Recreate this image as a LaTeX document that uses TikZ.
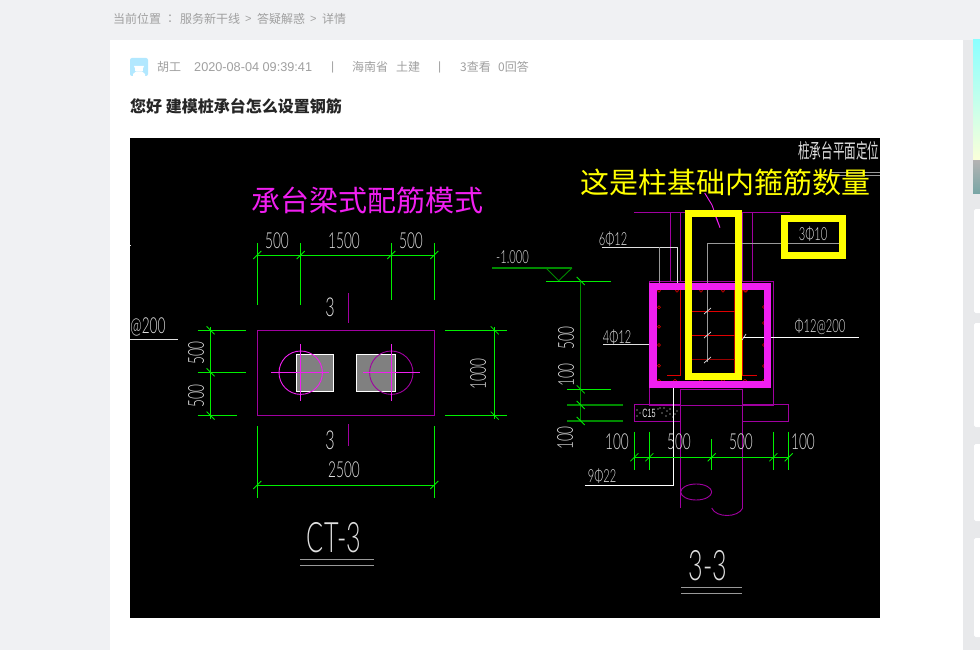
\documentclass[tikz,border=0pt]{standalone}
\usepackage{fontspec}
\usepackage{graphicx}
\setmainfont{Liberation Sans}
\newfontfamily\cjk{Noto Sans CJK SC}
\newfontfamily\cadf{Lato Light}
\definecolor{pagebg}{HTML}{F0F1F3}
\definecolor{stripbg}{HTML}{E8E9EB}
\definecolor{graytext}{HTML}{A0A0A0}
\definecolor{cadgreen}{HTML}{00F000}
\definecolor{dkgreen}{HTML}{008A00}
\definecolor{cadmag}{HTML}{A000A0}
\definecolor{brmag}{HTML}{F01FF0}
\definecolor{cadwhite}{HTML}{E0E0E0}
\definecolor{cadyellow}{HTML}{FFFF00}
\definecolor{cadred}{HTML}{E00000}
\newcommand\cadt[2][.62]{\scalebox{#1}[1]{#2}}
\tikzset{
  x=1pt,y=-1pt,
  crumb/.style={font=\cjk\fontsize{12}{12}\selectfont,text=graytext,inner sep=0,anchor=west},
  cad/.style={font=\cadf\fontsize{22}{22}\selectfont,text=cadwhite,inner sep=0},
  cadbig/.style={font=\cadf\fontsize{26}{26}\selectfont,text=cadwhite,inner sep=0},
  cadsm/.style={font=\cadf\fontsize{18}{18}\selectfont,text=cadwhite,inner sep=0},
  dimg/.style={draw=cadgreen,line width=.8pt},
  dimd/.style={draw=dkgreen,line width=1.2pt},
  mg/.style={draw=cadmag,line width=.9pt},
  bm/.style={draw=brmag,line width=.9pt},
  wl/.style={draw=cadwhite,line width=.9pt},
  gl/.style={draw=gray!80!white,line width=.9pt},
  rb/.style={draw=cadred,line width=.8pt},
  rr/.style={draw=cadred,line width=.5pt},
  ylw/.style={draw=cadyellow,line width=7pt},
}
\begin{document}
\begin{tikzpicture}
\useasboundingbox (0,0) rectangle (980,650);
\fill[pagebg] (0,0) rectangle (980,650);
\fill[stripbg] (963,40) rectangle (980,650);
\fill[white] (110,40) rectangle (963,650);
% right-hand column
\shade[top color=cyan!45,bottom color=green!10!yellow!15!white] (973,40) rectangle (980,161);
\shade[top color=gray!60,bottom color=teal!50!gray!70] (973,161) rectangle (980,193);
\foreach \a/\b in {209/313,323/427,444/521,538/637}
  \fill[white,rounded corners=1.5pt] (974,\a) rectangle (982,\b);
% breadcrumb
\node[crumb] (c1) at (113,19) {当前位置};
\node[crumb] (c2) at (167,19) {：};
\node[crumb] (c3) at (180,19) {服务新干线};
\node[crumb,font=\fontsize{11}{11}\selectfont] (c4) at (245,19) {>};
\node[crumb] (c5) at (257,19) {答疑解惑};
\node[crumb,font=\fontsize{11}{11}\selectfont] (c6) at (310,19) {>};
\node[crumb] (c7) at (322,19) {详情};
% author row
\fill[blue!30!cyan!30,rounded corners=2pt] (130,58) rectangle (148,76);
\fill[white] (134,66) arc[start angle=180,end angle=0,radius=5] -- cycle;
\fill[white] (135,67) rectangle (143,71);
\fill[white] (133,76) -- (133,74) -- (136,71.5) -- (142,71.5) -- (145,74) -- (145,76) -- cycle;
\node[crumb] (a1) at (157,67) {胡工};
\node[crumb,font=\fontsize{12.7}{12.7}\selectfont] (a2) at (194,67) {2020-08-04 09:39:41};
\node[crumb,font=\fontsize{12}{12}\selectfont] (a3) at (331,67) {|};
\node[crumb] (a4) at (352,67) {海南省};
\node[crumb] (a5) at (396,67) {土建};
\node[crumb,font=\fontsize{12}{12}\selectfont] (a6) at (438,67) {|};
\node[crumb] (a7) at (460,67) {3查看};
\node[crumb] (a8) at (498,67) {0回答};
\node[inner sep=0,anchor=west,font=\cjk\bfseries\fontsize{16}{16}\selectfont,text=black!85] (ttl) at (130,106) {您好 建模桩承台怎么设置钢筋};
% drawing
\fill[black] (130,138) rectangle (880,618);
\begin{scope}
\clip (130,138) rectangle (880,618);
%----- plan
\draw[dimg] (257.3,255) -- (434.3,255);
\draw[dimg] (257.3,243) -- (257.3,305);
\draw[dimg] (300.7,243) -- (300.7,305);
\draw[dimg] (391.3,243) -- (391.3,300);
\draw[dimg] (434.3,243) -- (434.3,300);
\draw[dimg] (210.6,327) -- (210.6,419);
\draw[dimg] (197.6,330.3) -- (246,330.3);
\draw[dimg] (197.6,372.3) -- (246,372.3);
\draw[dimg] (197.6,415.6) -- (237,415.6);
\draw[dimg] (494.7,327) -- (494.7,419);
\draw[dimg] (445,330.3) -- (507,330.3);
\draw[dimg] (445,415.6) -- (507,415.6);
\draw[dimg] (257.3,426) -- (257.3,498);
\draw[dimg] (434.3,426) -- (434.3,498);
\draw[dimg] (257.3,485) -- (434.3,485);
\foreach \x/\y in {257.3/255,300.7/255,391.3/255,434.3/255,257.3/485,434.3/485}
  \draw[dimg] ({\x-4},{\y+4}) -- ({\x+4},{\y-4});
\foreach \x/\y in {210.6/330.3,210.6/372.3,210.6/415.6,494.7/330.3,494.7/415.6}
  \draw[dimg] ({\x-4},{\y-4}) -- ({\x+4},{\y+4});
\draw[mg] (257.3,330.3) rectangle (434.3,415.6);
\draw[mg] (348,293) -- (348,323);
\draw[mg] (348,424) -- (348,446);
\draw[white,line width=.8pt,fill=gray] (296.6,354.3) rectangle (333.7,391.7);
\draw[white,line width=.8pt,fill=gray] (356.7,354.3) rectangle (395,391.7);
\draw[bm] (300.7,372.7) circle[radius=21.7];
\draw[mg] (391.3,372.7) circle[radius=21.7];
\draw[bm] (300.7,344) -- (300.7,401);
\draw[bm] (271,372.5) -- (328.7,372.5);
\draw[bm] (391.3,344) -- (391.3,401);
\draw[bm] (363,372.5) -- (419.5,372.5);
\draw[wl] (130,339) -- (178,339);
\draw[wl] (130,245) -- (131,245);
\draw[gl] (300,559.5) -- (374,559.5);
\draw[gl] (300,565) -- (374,565);
\node[cad] (p1) at (277,241) {\cadt{500}};
\node[cad] (p2) at (344,241) {\cadt{1500}};
\node[cad] (p3) at (411,241) {\cadt{500}};
\node[cadbig] (p4) at (330,307) {\cadt{3}};
\node[cadbig] (p5) at (330,440) {\cadt{3}};
\node[cad,rotate=90] (p6) at (196,353) {\cadt{500}};
\node[cad,rotate=90] (p7) at (196,396) {\cadt{500}};
\node[cad,rotate=90] (p8) at (478,374) {\cadt{1000}};
\node[cad] (p9) at (344,470) {\cadt{2500}};
\node[cad] (p10) at (148,327) {\cadt{@200}};
\node[font=\cadf\fontsize{42}{42}\selectfont,text=cadwhite,inner sep=0] (p11) at (334,538) {\cadt[.6]{CT-3}};
%----- section: concrete and column
\draw[mg] (634,212.3) -- (790,212.3);
\foreach \x in {670,680.7,742.3,752.3} \draw[mg] (\x,212.3) -- (\x,282);
\draw[bm] (704.7,193) -- (712,205) -- (720,227.7) -- (715,215);
\draw[mg] (649.3,281.3) rectangle (773.7,405);
% pile and cushion
\draw[mg] (634.3,404.7) rectangle (680.7,421.3);
\draw[mg] (742.7,404.7) -- (788.7,404.7) -- (788.7,421.3) -- (742.7,421.3);
\draw[mg] (680.7,508) -- (680.7,389.3) -- (742.7,389.3) -- (742.7,508);
\draw[mg] (696.2,500) arc[start angle=90,end angle=-270,x radius=15.5,y radius=8];
\draw[mg] (711.7,508) .. controls (716,518) and (738,518) .. (742.7,508);
\foreach \x/\y in {637/410,637/416,640/413,658/409,662/413,664/408,667/411,670/409,673/417,677/411,670/414,675/414,666/416,660/408}
  \fill[white] (\x,\y) circle[radius=.6];
\node[font=\fontsize{12}{12}\selectfont,text=cadwhite,inner sep=0] (s0) at (649,413) {\cadt[.6]{C15}};
% rebar
\draw[rb] (680.7,290) -- (680.7,375) -- (666.7,375);
\draw[rb] (742.3,290) -- (742.3,375) -- (756.7,375);
\draw[rb,draw=red!70!black,line width=1pt] (734.3,290) -- (734.3,375);
\draw[rb] (692,311.7) -- (735,311.7);
\draw[rb] (692,335.3) -- (735,335.3);
\draw[draw=red!60!black,line width=1.4pt] (692,359.7) -- (735,359.7);
\foreach \x/\y in {659/290.7,659/307.3,659/326.7,659/345,659/365.7,659/380.7,
  677/290.7,701/290.7,723/290.7,745/290.7,746/290.7,
  675/380.7,701/380.7,723/380.7,745/380.7,
  764/307,764/323,764/345,764/366,764/380.7}
  \draw[rr] (\x,\y) circle[radius=1.5];
% leaders
\draw[gl,draw=cadwhite] (602,247.3) -- (677.7,247.3) -- (677.7,290);
\draw[gl] (659,247.3) -- (659,290);
\draw[gl] (839,243.3) -- (707.7,243.3) -- (707.7,361.7);
\foreach \y in {311,335,360} \draw[cadwhite,line width=.7pt] (704,{\y+3}) -- (711,{\y-3});
\draw[wl] (603,344.3) -- (649,344.3);
\draw[white,line width=.9pt] (743,337) -- (859,337);
\draw[cadwhite,line width=.7pt] (742,340) -- (746,334);
\draw[white,line width=.9pt] (673.3,388) -- (673.3,485) -- (585,485);
% thick highlight boxes
\draw[brmag,line width=7.5pt] (653,286.3) rectangle (767.5,384.3);
\draw[ylw] (688.6,213.6) rectangle (738.5,376.4);
\draw[ylw] (784.5,218.6) rectangle (842.5,255.4);
% elevation dims
\draw[dimd] (492,268) -- (572,268);
\draw[dkgreen,line width=.9pt] (546,268) -- (558.7,280.7) -- (572,268);
\draw[dimg] (546,281) -- (611,281);
\draw[dimg] (567,389.3) -- (611,389.3);
\draw[dimd] (567,405) -- (623,405);
\draw[dimd] (567,421) -- (623,421);
\draw[dimd] (580.7,281) -- (580.7,421);
\foreach \y in {281,389.3,405,421} \draw[dimg] (576.7,{\y-4}) -- (584.7,{\y+4});
\draw[dimg] (634.3,457.3) -- (788.7,457.3);
\draw[dimd,draw=cadgreen] (634.3,431.7) -- (634.3,470);
\draw[dimg] (649.3,431.7) -- (649.3,470);
\draw[dimg] (711.7,439) -- (711.7,470);
\draw[dimg] (773.3,431.7) -- (773.3,470);
\draw[dimd,draw=cadgreen] (788.7,431.7) -- (788.7,470);
\foreach \x in {634.3,649.3,711.7,773.3,788.7} \draw[dimg] ({\x-4},461.3) -- ({\x+4},453.3);
% section texts
\node[cadsm] (s1) at (512.5,257) {\cadt{-1.000}};
\node[cad,rotate=90] (s2) at (566,338) {\cadt{500}};
\node[cad,rotate=90] (s3) at (566,375) {\cadt{100}};
\node[cad,rotate=90] (s4) at (565,438) {\cadt{100}};
\node[cadsm] (s5) at (613,239) {\cadt{6Φ12}};
\node[cadsm] (s6) at (617,337) {\cadt{4Φ12}};
\node[cadsm] (s7) at (813,234) {\cadt{3Φ10}};
\node[cadsm] (s8) at (820,327) {\cadt{Φ12@200}};
\node[cadsm] (s9) at (602,476) {\cadt{9Φ22}};
\node[cad] (s10) at (617,442) {\cadt{100}};
\node[cad] (s11) at (679,442) {\cadt{500}};
\node[cad] (s12) at (741,442) {\cadt{500}};
\node[cad] (s13) at (803,442) {\cadt{100}};
\node[font=\cadf\fontsize{42}{42}\selectfont,text=cadwhite,inner sep=0] (s14) at (708,566) {\cadt[.6]{3-3}};
\draw[gl] (681,587.7) -- (742,587.7);
\draw[gl] (681,593.3) -- (742,593.3);
\node[font=\cjk\fontsize{20}{20}\selectfont,text=cadwhite,inner sep=0,anchor=west] (s15) at (798,151) {\cadt[.58]{桩承台平面定位}};
\draw[gl] (830,172) -- (880,172);
\draw[gl] (830,175) -- (880,175);
% annotations
\node[font=\cjk\fontsize{29}{29}\selectfont,text=brmag,inner sep=0] (n1) at (367,200) {承台梁式配筋模式};
\node[font=\cjk\fontsize{29}{29}\selectfont,text=cadyellow,inner sep=0] (n2) at (725,182) {这是柱基础内箍筋数量};
\end{scope}
\end{tikzpicture}
\end{document}
